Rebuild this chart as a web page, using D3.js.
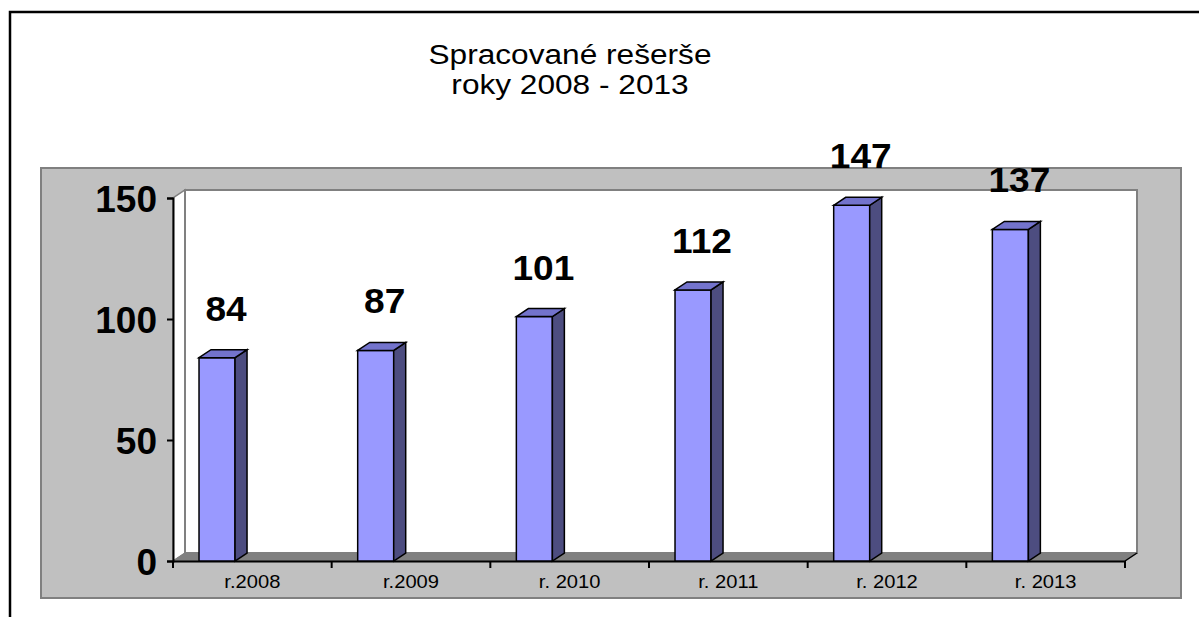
<!DOCTYPE html>
<html>
<head>
<meta charset="utf-8">
<script src="https://cdn.jsdelivr.net/npm/d3@7"></script>
<style>
  body { margin: 0; background: #fff; }
  svg { display: block; font-family: "Liberation Sans", Arial, sans-serif; }
</style>
</head>
<body>
<svg id="chart"></svg>
<script>
const categories = ["r.2008", "r.2009", "r. 2010", "r. 2011", "r. 2012", "r. 2013"];
const values = [84, 87, 101, 112, 147, 137];
const yTicks = [0, 50, 100, 150];
const titleLines = ["Spracované rešerše", "roky 2008 - 2013"];

const width = 1199;
const height = 617;
const depthX = 12, depthY = 8;

const svg = d3.select('#chart')
    .attr('width', width)
    .attr('height', height);

// outer frame (only top and left edge visible)
svg.append('path')
    .attr('d', `M10,${height} L10,12 L${width},12`)
    .attr('fill', 'none')
    .attr('stroke', '#000')
    .attr('stroke-width', 2.5);

// title
titleLines.forEach((t, i) => {
    svg.append('text')
        .attr('transform', `translate(570, ${64 + i * 30}) scale(1.15,1)`)
        .attr('text-anchor', 'middle')
        .style('font-size', '27.5px')
        .text(t);
});

// grey plot area
svg.append('rect')
    .attr('x', 41).attr('y', 168)
    .attr('width', 1140).attr('height', 430)
    .attr('fill', '#c0c0c0')
    .attr('stroke', '#808080')
    .attr('stroke-width', 2);

const x = d3.scaleBand()
    .domain(categories)
    .range([173, 1125]);

const y = d3.scaleLinear()
    .domain([0, 150])
    .range([561, 198]);

const x0 = x.range()[0], x1 = x.range()[1];
const y0 = y(0), yTop = y(150);

// side wall
svg.append('path')
    .attr('d', `M${x0},${y0} L${x0},${yTop} L${x0 + depthX},${yTop - depthY} L${x0 + depthX},${y0 - depthY} Z`)
    .attr('fill', '#fff')
    .attr('stroke', '#808080')
    .attr('stroke-width', 1.5);

// back wall
svg.append('rect')
    .attr('x', x0 + depthX).attr('y', yTop - depthY)
    .attr('width', x1 - x0).attr('height', y0 - yTop)
    .attr('fill', '#fff')
    .attr('stroke', '#808080')
    .attr('stroke-width', 2);

// floor
svg.append('path')
    .attr('d', `M${x0},${y0} L${x0 + depthX},${y0 - depthY} L${x1 + depthX},${y0 - depthY} L${x1},${y0} Z`)
    .attr('fill', '#808080')
    .attr('stroke', '#808080');

// y axis
const yAxis = svg.append('g')
    .attr('transform', `translate(${x0},0)`)
    .call(d3.axisLeft(y).tickValues(yTicks).tickSize(6).tickPadding(10));
yAxis.select('.domain').attr('stroke', '#000').attr('stroke-width', 2);
yAxis.selectAll('.tick line').attr('stroke', '#000').attr('stroke-width', 2);
yAxis.selectAll('.tick text')
    .attr('fill', '#000')
    .attr('dy', '0.36em')
    .style('font-size', '37px')
    .style('font-weight', 'bold')
    .style('font-family', '"Liberation Sans", Arial, sans-serif');

// x axis
const xAxis = svg.append('g')
    .attr('transform', `translate(0,${y0})`)
    .call(d3.axisBottom(x).tickSize(0).tickPadding(14));
xAxis.select('.domain').attr('stroke', '#000').attr('stroke-width', 2);
xAxis.selectAll('.tick text')
    .attr('fill', '#000')
    .attr('y', 0)
    .attr('dy', 0)
    .attr('transform', 'translate(0,27) scale(1.12,1)')
    .style('font-size', '18px')
    .style('font-family', '"Liberation Sans", Arial, sans-serif');
// boundary ticks between categories
xAxis.selectAll('.bound')
    .data(categories.concat(['end']))
    .enter().append('line')
    .attr('x1', (d, i) => i < categories.length ? x(d) : x1)
    .attr('x2', (d, i) => i < categories.length ? x(d) : x1)
    .attr('y1', 0).attr('y2', 7)
    .attr('stroke', '#000').attr('stroke-width', 2);
xAxis.append('line')
    .attr('x1', x1).attr('y1', 0)
    .attr('x2', x1 + depthX).attr('y2', -depthY)
    .attr('stroke', '#000').attr('stroke-width', 1.5);

// bars
const bw = x.bandwidth();
const barOff = bw * 0.164, barW = bw * 0.227;
const bars = svg.selectAll('.bar')
    .data(values.map((v, i) => ({ v, c: categories[i] })))
    .enter().append('g')
    .attr('class', 'bar');

bars.append('rect')
    .attr('x', d => x(d.c) + barOff)
    .attr('y', d => y(d.v))
    .attr('width', barW)
    .attr('height', d => y0 - y(d.v))
    .attr('fill', '#9999ff')
    .attr('stroke', '#000')
    .attr('stroke-width', 1.5);

bars.append('path')
    .attr('d', d => {
        const a = x(d.c) + barOff + barW, t = y(d.v);
        return `M${a},${t} L${a + depthX},${t - depthY} L${a + depthX},${y0 - depthY} L${a},${y0} Z`;
    })
    .attr('fill', '#4d4d80')
    .attr('stroke', '#000')
    .attr('stroke-width', 1.5);

bars.append('path')
    .attr('d', d => {
        const a = x(d.c) + barOff, t = y(d.v);
        return `M${a},${t} L${a + depthX},${t - depthY} L${a + barW + depthX},${t - depthY} L${a + barW},${t} Z`;
    })
    .attr('fill', '#7373cc')
    .attr('stroke', '#000')
    .attr('stroke-width', 1.5);

// data labels
bars.append('text')
    .attr('transform', d => `translate(${x(d.c) + barOff + barW / 2 + 9}, ${y(d.v) - 37}) scale(1.06,1)`)
    .attr('text-anchor', 'middle')
    .style('font-size', '35px')
    .style('font-weight', 'bold')
    .text(d => d.v);
</script>
</body>
</html>
